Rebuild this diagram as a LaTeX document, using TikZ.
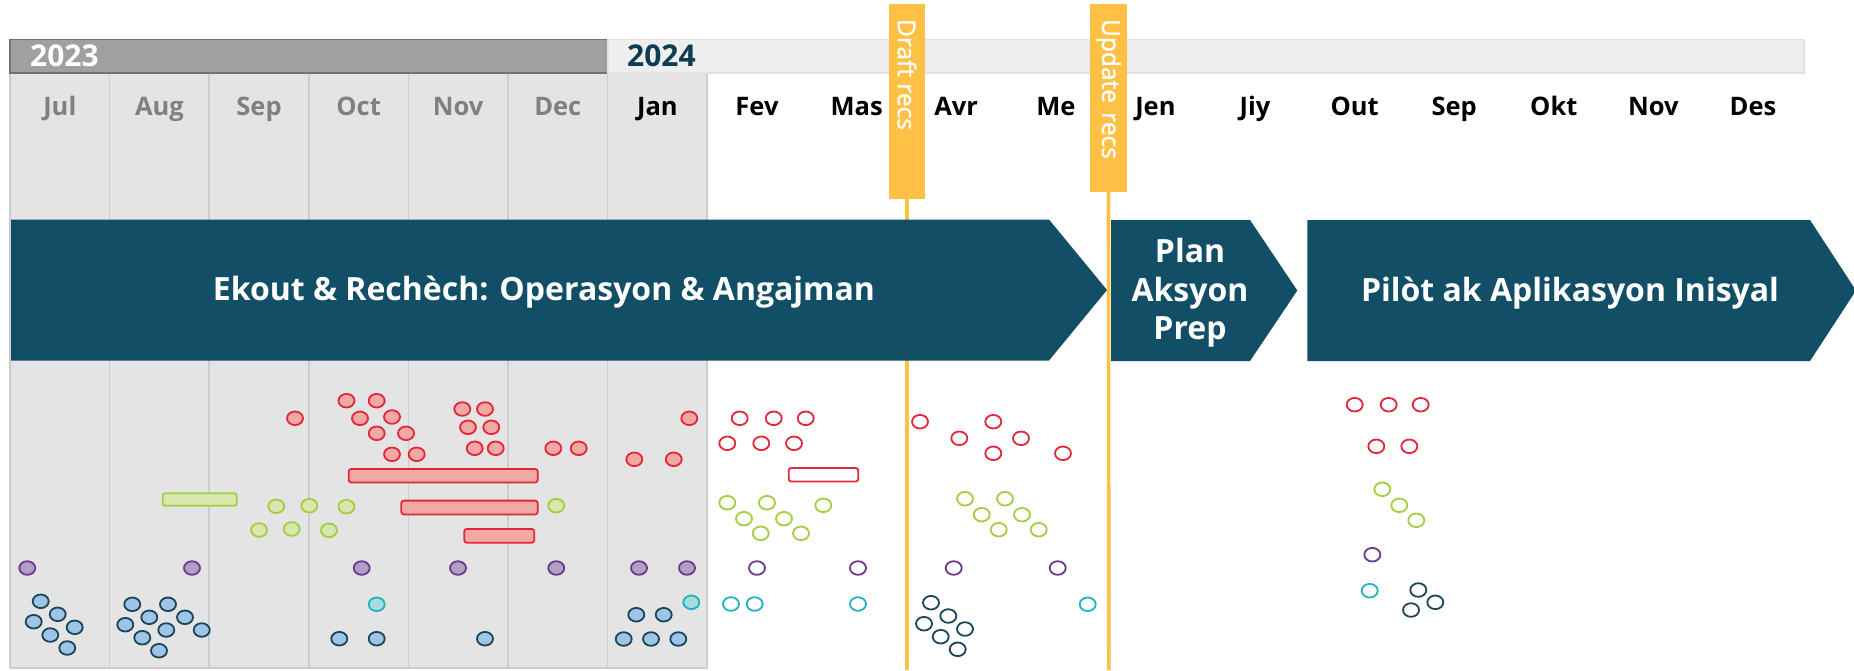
\documentclass[tikz,border=0pt]{standalone}
\usepackage{fontspec}
\setmainfont{Open Sans}
\newfontfamily\semifont{Open Sans}[FakeBold=1.2]
\usetikzlibrary{shapes.geometric}
\definecolor{banner}{RGB}{18,79,103}
\definecolor{yr24}{RGB}{12,62,82}
\definecolor{ylw}{RGB}{255,193,69}
\definecolor{colgray}{RGB}{228,228,228}
\definecolor{colline}{RGB}{205,205,205}
\definecolor{bar23}{RGB}{160,160,160}
\definecolor{bar23line}{RGB}{123,110,110}
\definecolor{bar24}{RGB}{238,238,238}
\definecolor{bar24line}{RGB}{226,226,226}
\definecolor{monthgray}{RGB}{128,128,128}
\definecolor{redS}{RGB}{227,38,58}
\definecolor{redF}{RGB}{242,168,163}
\definecolor{grnS}{RGB}{164,206,63}
\definecolor{grnF}{RGB}{216,231,176}
\definecolor{purS}{RGB}{106,58,140}
\definecolor{purF}{RGB}{176,158,196}
\definecolor{tealS}{RGB}{34,179,192}
\definecolor{tealF}{RGB}{167,220,220}
\definecolor{bluS}{RGB}{26,70,88}
\definecolor{bluF}{RGB}{158,197,232}
\begin{document}
\begin{tikzpicture}[x=1pt,y=-1pt,
  dotbase/.style={ellipse, minimum width=16pt, minimum height=13.6pt, inner sep=0pt, line width=1.8pt},
  dotRF/.style={dotbase, draw=redS, fill=redF},
  dotRO/.style={dotbase, draw=redS, fill=white},
  dotGF/.style={dotbase, draw=grnS, fill=grnF},
  dotGO/.style={dotbase, draw=grnS, fill=white},
  dotPF/.style={dotbase, draw=purS, fill=purF},
  dotPO/.style={dotbase, draw=purS, fill=white},
  dotTF/.style={dotbase, draw=tealS, fill=tealF},
  dotTO/.style={dotbase, draw=tealS, fill=white},
  dotBF/.style={dotbase, draw=bluS, fill=bluF},
  dotBO/.style={dotbase, draw=bluS, fill=white},
  barbase/.style={rectangle, rounded corners=2.5pt, inner sep=0pt, line width=1.8pt},
  month/.style={font=\fontsize{25.5}{30}\selectfont\bfseries, anchor=base, inner sep=0pt},
  yeartxt/.style={font=\fontsize{30}{34}\selectfont\bfseries, anchor=base west, inner sep=0pt},
  btext/.style={font=\fontsize{32}{36}\selectfont\bfseries, text=white, anchor=base, inner sep=0pt},
  ybox/.style={rectangle, fill=ylw, inner sep=0pt},
  ytext/.style={font=\fontsize{24.5}{28}\selectfont\semifont, text=white, rotate=-90, inner sep=0pt},
  yline/.style={draw=ylw, line width=3.6pt},
  arrowshape/.style={fill=banner}
  ]
\useasboundingbox (0,0) rectangle (1854,670);
\fill[white] (0,0) rectangle (1854,670);
% month columns (shaded past)
\foreach \i in {0,...,6}
  \draw[draw=colline, fill=colgray, line width=1.5pt] ({10+99.6*\i},73) rectangle ({10+99.6*(\i+1)},668);
% year bars
\draw[fill=bar23, draw=bar23line, line width=1.2pt] (10,39.5) rectangle (608,73);
\draw[fill=bar24, draw=bar24line, line width=1.2pt] (608,39.5) rectangle (1804,73);
\node[yeartxt, text=white] (y23) at (30,66.7) {2023};
\node[yeartxt, text=yr24] (y24) at (627,66.7) {2024};
% months
\foreach \m [count=\i from 0] in {Jul,Aug,Sep,Oct,Nov,Dec}
  \node[month, text=monthgray] (m\i) at ({59.8+99.6*\i},115) {\m};
\foreach \m [count=\i from 6] in {Jan,Fev,Mas,Avr,Me,Jen,Jiy,Out,Sep,Okt,Nov,Des}
  \node[month, text=black] (m\i) at ({59.8+99.6*\i},115) {\m};
% milestone markers
\node[ybox, minimum width=36pt, minimum height=195pt] (draft) at (907,101.5) {};
\node[ybox, minimum width=37pt, minimum height=188pt] (update) at (1108.5,98) {};
\coordinate (draftEnd) at (907,670);
\coordinate (updateEnd) at (1108.8,670);
\draw[yline] (draft.south) -- (draftEnd);
\draw[yline] (update.south) -- (updateEnd);
\node[ytext] (draftT) at (907,74.5) {Draft recs};
\node[ytext] (updateT) at (1108.5,89) {Update\hspace{3pt} recs};
% phase arrows
\fill[arrowshape] (11,219.5) -- (1049,219.5) -- (1107,290) -- (1049,360.5) -- (11,360.5) -- cycle;
\fill[arrowshape] (1111,220) -- (1250,220) -- (1297.3,290.5) -- (1250,361) -- (1111,361) -- cycle;
\fill[arrowshape] (1307.3,220) -- (1810,220) -- (1856,290.5) -- (1810,361) -- (1307.3,361) -- cycle;
\node[btext] (a1) at (544,300.7) {Ekout \& Rechèch: Operasyon \& Angajman};
\node[btext] (a2a) at (1190,262.7) {Plan};
\node[btext] (a2b) at (1190,301.7) {Aksyon};
\node[btext] (a2c) at (1190,339.3) {Prep};
\node[btext] (a3) at (1570,301.7) {Pilòt ak Aplikasyon Inisyal};
% bars
\node[barbase, draw=grnS, fill=grnF, minimum width=74pt, minimum height=12.6pt] (gbar) at (199.7,499.5) {};
\node[barbase, draw=redS, fill=redF, minimum width=189pt, minimum height=13.5pt] (rbar1) at (443.2,475.7) {};
\node[barbase, draw=redS, fill=redF, minimum width=136.4pt, minimum height=13.8pt] (rbar2) at (469.5,507.5) {};
\node[barbase, draw=redS, fill=redF, minimum width=70pt, minimum height=13.8pt] (rbar3) at (499.3,535.8) {};
\node[barbase, draw=redS, fill=white, minimum width=69.6pt, minimum height=13.5pt] (rbar4) at (823.5,474.7) {};
% dots
\foreach \x/\y [count=\k] in {295/418.3, 346.5/400.7, 376.7/400.7, 360/418.3, 392/417, 376.7/433.3, 406/433.3, 392/454.3, 416.7/454.3, 462.3/409, 485/409, 468/427.3, 491.3/427.3, 474.7/448.3, 495.7/448.3, 553.3/448.3, 578.7/448.3, 689.3/418.3, 634.3/459.3, 673.7/459.3}
  \node[dotRF] (rf\k) at (\x,\y) {};
\foreach \x/\y [count=\k] in {739.7/418.3, 773.7/418.3, 805.7/418.3, 727.3/443.3, 761.3/443.3, 794/443.3, 920/421.7, 959.3/438.3, 993.3/421.7, 1021/438.3, 993.3/453.3, 1063/453.3, 1354.7/404.7, 1388.7/404.7, 1420.7/404.7, 1376.3/446.3, 1409.3/446.3}
  \node[dotRO] (ro\k) at (\x,\y) {};
\foreach \x/\y [count=\k] in {276.3/506.3, 309.3/505.7, 346.5/506.7, 259/530, 291.7/529, 329/530.3, 556.3/505.7}
  \node[dotGF] (gf\k) at (\x,\y) {};
\foreach \x/\y [count=\k] in {727.3/502.7, 767/502.7, 823.3/505.3, 744/518.7, 784/518.7, 760.7/533.3, 801/533.3, 965/498.7, 1005/498.7, 981.7/514.7, 1022/514.7, 998.7/529.7, 1038.7/529.7, 1382.3/489.3, 1399.3/505.3, 1416.3/520.3}
  \node[dotGO] (go\k) at (\x,\y) {};
\foreach \x/\y [count=\k] in {27.3/568, 192/568, 361.7/568, 458/568, 556.3/568, 639/568, 687/568}
  \node[dotPF] (pf\k) at (\x,\y) {};
\foreach \x/\y [count=\k] in {757/568, 858/568, 953.7/568, 1057.7/568, 1372.3/554.7}
  \node[dotPO] (po\k) at (\x,\y) {};
\foreach \x/\y [count=\k] in {376.7/604.3, 691.3/602.3}
  \node[dotTF] (tf\k) at (\x,\y) {};
\foreach \x/\y [count=\k] in {731/604, 754.7/604, 858/604, 1087.7/604.3, 1369.7/590.7}
  \node[dotTO] (tq\k) at (\x,\y) {};
\foreach \x/\y [count=\k] in {40.7/601.3, 57.7/614.3, 33.7/621.7, 74.7/627.3, 50.3/635, 67.3/648, 132.3/604.3, 168/604.3, 149.3/617.3, 185/617.3, 125.3/624.7, 166.3/630, 201.7/630, 142.3/637.7, 159/650.7, 339.3/638.7, 376.7/638.7, 485/638.7, 636.3/614.7, 663.7/614.7, 623.7/639, 651/639, 678.3/639}
  \node[dotBF] (bf\k) at (\x,\y) {};
\foreach \x/\y [count=\k] in {931/602.7, 948.3/616, 924/623.7, 965/629, 940.7/636.7, 957.7/649.3, 1418.3/590, 1435.3/602.3, 1411/610}
  \node[dotBO] (bo\k) at (\x,\y) {};
\end{tikzpicture}
\end{document}
